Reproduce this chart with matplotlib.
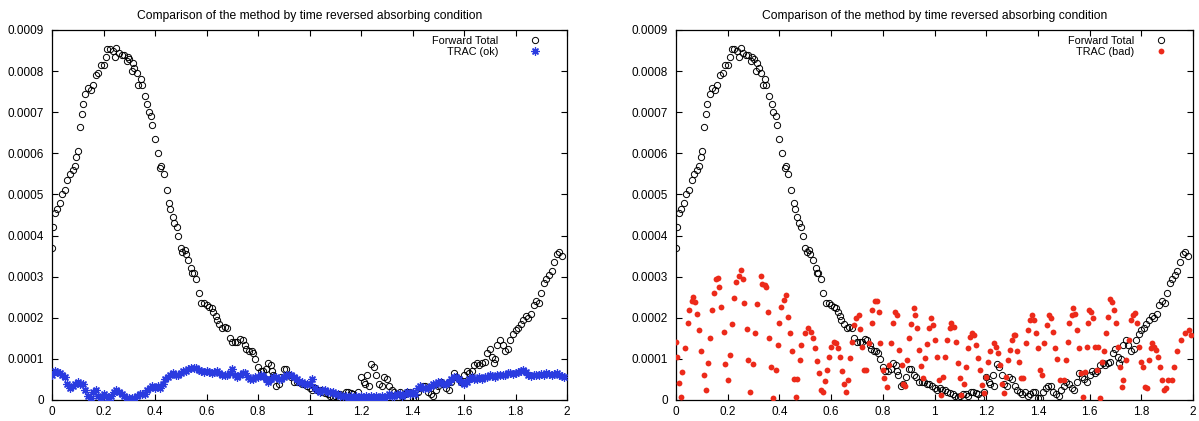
import numpy as np
import matplotlib
matplotlib.use("Agg")
import matplotlib.pyplot as plt
from matplotlib.ticker import MultipleLocator, FuncFormatter

plt.rcParams['font.family'] = ['Liberation Sans', 'DejaVu Sans']

title = "Comparison of the method by time reversed absorbing condition"

# Forward Total (same in both panels)
fwd_x = [0.000, 0.005, 0.010, 0.020, 0.030, 0.040, 0.050, 0.060, 0.070, 0.080,
         0.090, 0.095, 0.100, 0.110, 0.115, 0.120, 0.130, 0.140, 0.150, 0.160,
         0.170, 0.180, 0.190, 0.200, 0.210, 0.215, 0.225, 0.235, 0.245, 0.250,
         0.260, 0.270, 0.280, 0.290, 0.295, 0.300, 0.310, 0.315, 0.320, 0.330,
         0.335, 0.345, 0.350, 0.360, 0.370, 0.375, 0.385, 0.390, 0.400, 0.410,
         0.420, 0.425, 0.435, 0.445, 0.455, 0.460, 0.470, 0.475, 0.485, 0.490,
         0.500, 0.505, 0.515, 0.520, 0.530, 0.540, 0.545, 0.550, 0.560, 0.570,
         0.580, 0.590, 0.600, 0.610, 0.620, 0.625, 0.635, 0.640, 0.650, 0.660,
         0.670, 0.680, 0.690, 0.700, 0.710, 0.720, 0.730, 0.740, 0.750, 0.755,
         0.765, 0.775, 0.780, 0.790, 0.800, 0.810, 0.820, 0.830, 0.840, 0.850,
         0.855, 0.860, 0.870, 0.880, 0.890, 0.900, 0.910, 0.920, 0.930, 0.940,
         0.950, 0.960, 0.970, 0.980, 0.990, 1.000, 1.010, 1.020, 1.030, 1.040,
         1.050, 1.060, 1.070, 1.080, 1.090, 1.100, 1.110, 1.120, 1.130, 1.140,
         1.150, 1.160, 1.170, 1.180, 1.190, 1.200, 1.210, 1.215, 1.225, 1.230,
         1.240, 1.250, 1.260, 1.270, 1.280, 1.290, 1.300, 1.310, 1.320, 1.330,
         1.340, 1.350, 1.360, 1.370, 1.380, 1.390, 1.400, 1.410, 1.420, 1.430,
         1.440, 1.450, 1.460, 1.470, 1.480, 1.490, 1.500, 1.510, 1.520, 1.530,
         1.540, 1.550, 1.560, 1.570, 1.580, 1.590, 1.600, 1.610, 1.620, 1.630,
         1.640, 1.650, 1.660, 1.670, 1.680, 1.690, 1.700, 1.710, 1.715, 1.720,
         1.730, 1.740, 1.750, 1.760, 1.770, 1.780, 1.790, 1.800, 1.810, 1.820,
         1.830, 1.840, 1.850, 1.860, 1.870, 1.880, 1.890, 1.900, 1.910, 1.920,
         1.930, 1.940, 1.950, 1.960, 1.970, 1.980]
fwd_y = [0.000370, 0.000420, 0.000455, 0.000465, 0.000480, 0.000500, 0.000510, 0.000535, 0.000550, 0.000560,
         0.000570, 0.000590, 0.000605, 0.000665, 0.000695, 0.000720, 0.000745, 0.000760, 0.000755, 0.000765,
         0.000790, 0.000795, 0.000815, 0.000815, 0.000835, 0.000853, 0.000853, 0.000850, 0.000835, 0.000857,
         0.000845, 0.000840, 0.000840, 0.000825, 0.000835, 0.000830, 0.000800, 0.000820, 0.000808, 0.000795,
         0.000765, 0.000780, 0.000765, 0.000740, 0.000720, 0.000700, 0.000690, 0.000670, 0.000635, 0.000600,
         0.000565, 0.000570, 0.000550, 0.000510, 0.000480, 0.000465, 0.000445, 0.000430, 0.000420, 0.000400,
         0.000370, 0.000360, 0.000365, 0.000355, 0.000340, 0.000320, 0.000310, 0.000310, 0.000295, 0.000260,
         0.000237, 0.000237, 0.000232, 0.000227, 0.000225, 0.000215, 0.000205, 0.000195, 0.000185, 0.000175,
         0.000178, 0.000175, 0.000152, 0.000140, 0.000140, 0.000140, 0.000148, 0.000145, 0.000135, 0.000125,
         0.000120, 0.000118, 0.000115, 0.000100, 0.000080, 0.000070, 0.000070, 0.000075, 0.000090, 0.000085,
         0.000070, 0.000060, 0.000035, 0.000040, 0.000055, 0.000075, 0.000075, 0.000060, 0.000055, 0.000045,
         0.000045, 0.000045, 0.000040, 0.000040, 0.000035, 0.000030, 0.000025, 0.000030, 0.000025, 0.000025,
         0.000020, 0.000018, 0.000015, 0.000010, 0.000008, 0.000010, 0.000015, 0.000015, 0.000010, 0.000020,
         0.000020, 0.000018, 0.000015, 0.000005, 0.000020, 0.000055, 0.000045, 0.000040, 0.000060, 0.000035,
         0.000088, 0.000080, 0.000060, 0.000040, 0.000035, 0.000055, 0.000050, 0.000035, 0.000025, 0.000020,
         0.000015, 0.000020, 0.000010, 0.000015, 0.000020, 0.000020, 0.000005, 0.000005, 0.000020, 0.000030,
         0.000035, 0.000035, 0.000020, 0.000015, 0.000010, 0.000025, 0.000035, 0.000045, 0.000040, 0.000028,
         0.000025, 0.000045, 0.000065, 0.000055, 0.000050, 0.000045, 0.000060, 0.000070, 0.000065, 0.000070,
         0.000085, 0.000090, 0.000085, 0.000090, 0.000093, 0.000115, 0.000125, 0.000105, 0.000090, 0.000100,
         0.000135, 0.000145, 0.000135, 0.000120, 0.000125, 0.000145, 0.000160, 0.000170, 0.000175, 0.000185,
         0.000195, 0.000205, 0.000200, 0.000210, 0.000230, 0.000240, 0.000235, 0.000260, 0.000285, 0.000295,
         0.000305, 0.000315, 0.000335, 0.000355, 0.000360, 0.000350]

# TRAC (ok), sampled every 0.01 from 0 to 1.99
ok_x = [round(0.01 * i, 2) for i in range(200)]
ok_y = [0.000060, 0.000070, 0.000068, 0.000065, 0.000060, 0.000055, 0.000040, 0.000030, 0.000035, 0.000040,
        0.000045, 0.000040, 0.000040, 0.000025, 0.000010, 0.000005, 0.000020, 0.000025, 0.000010, 0.000005,
        0.000015, 0.000010, 0.000000, 0.000010, 0.000020, 0.000025, 0.000020, 0.000015, 0.000010, 0.000005,
        0.000005, 0.000005, 0.000005, 0.000010, 0.000015, 0.000015, 0.000015, 0.000025, 0.000030, 0.000035,
        0.000030, 0.000035, 0.000030, 0.000040, 0.000050, 0.000055, 0.000060, 0.000065, 0.000060, 0.000060,
        0.000065, 0.000070, 0.000070, 0.000075, 0.000078, 0.000078, 0.000077, 0.000073, 0.000070, 0.000068,
        0.000070, 0.000067, 0.000065, 0.000068, 0.000070, 0.000065, 0.000060, 0.000060, 0.000060, 0.000065,
        0.000075, 0.000060, 0.000055, 0.000060, 0.000065, 0.000065, 0.000055, 0.000050, 0.000050, 0.000055,
        0.000055, 0.000060, 0.000058, 0.000050, 0.000045, 0.000050, 0.000055, 0.000055, 0.000050, 0.000050,
        0.000055, 0.000060, 0.000060, 0.000060, 0.000055, 0.000050, 0.000045, 0.000045, 0.000040, 0.000040,
        0.000040, 0.000050, 0.000030, 0.000025, 0.000020, 0.000025, 0.000025, 0.000020, 0.000020, 0.000020,
        0.000015, 0.000015, 0.000010, 0.000010, 0.000010, 0.000005, 0.000010, 0.000005, 0.000010, 0.000005,
        0.000010, 0.000005, 0.000010, 0.000005, 0.000010, 0.000005, 0.000010, 0.000005, 0.000010, 0.000005,
        0.000010, 0.000015, 0.000010, 0.000010, 0.000015, 0.000015, 0.000010, 0.000015, 0.000020, 0.000015,
        0.000020, 0.000015, 0.000030, 0.000035, 0.000030, 0.000030, 0.000030, 0.000035, 0.000040, 0.000040,
        0.000045, 0.000045, 0.000040, 0.000040, 0.000045, 0.000050, 0.000055, 0.000055, 0.000050, 0.000045,
        0.000040, 0.000045, 0.000050, 0.000055, 0.000050, 0.000050, 0.000055, 0.000050, 0.000055, 0.000055,
        0.000060, 0.000058, 0.000055, 0.000060, 0.000062, 0.000060, 0.000062, 0.000065, 0.000065, 0.000063,
        0.000065, 0.000068, 0.000070, 0.000072, 0.000068, 0.000060, 0.000058, 0.000060, 0.000060, 0.000062,
        0.000063, 0.000062, 0.000065, 0.000063, 0.000060, 0.000063, 0.000065, 0.000060, 0.000058, 0.000055]

# TRAC (bad)
bad_x = [0.000, 0.003, 0.010, 0.020, 0.025, 0.035, 0.045, 0.050, 0.060, 0.067,
         0.075, 0.082, 0.090, 0.097, 0.107, 0.115, 0.122, 0.130, 0.139, 0.146,
         0.154, 0.164, 0.168, 0.176, 0.184, 0.190, 0.200, 0.210, 0.216, 0.224,
         0.234, 0.243, 0.250, 0.258, 0.264, 0.273, 0.280, 0.288, 0.298, 0.306,
         0.313, 0.328, 0.333, 0.343, 0.350, 0.355, 0.360, 0.368, 0.377, 0.385,
         0.393, 0.400, 0.407, 0.418, 0.425, 0.433, 0.440, 0.447, 0.455, 0.463,
         0.470, 0.478, 0.485, 0.500, 0.512, 0.522, 0.530, 0.537, 0.545, 0.552,
         0.560, 0.570, 0.578, 0.584, 0.592, 0.600, 0.610, 0.620, 0.627, 0.634,
         0.642, 0.650, 0.657, 0.667, 0.675, 0.682, 0.690, 0.697, 0.706, 0.713,
         0.720, 0.728, 0.736, 0.746, 0.757, 0.760, 0.768, 0.776, 0.784, 0.790,
         0.800, 0.806, 0.816, 0.824, 0.833, 0.840, 0.848, 0.855, 0.863, 0.873,
         0.880, 0.886, 0.893, 0.900, 0.910, 0.920, 0.925, 0.933, 0.940, 0.948,
         0.955, 0.963, 0.970, 0.978, 0.985, 0.993, 1.000, 1.010, 1.018, 1.027,
         1.033, 1.042, 1.050, 1.060, 1.064, 1.075, 1.082, 1.090, 1.097, 1.104,
         1.115, 1.122, 1.130, 1.137, 1.145, 1.154, 1.160, 1.167, 1.176, 1.183,
         1.190, 1.200, 1.208, 1.216, 1.230, 1.238, 1.246, 1.254, 1.260, 1.270,
         1.276, 1.284, 1.291, 1.300, 1.306, 1.313, 1.320, 1.328, 1.336, 1.343,
         1.354, 1.363, 1.370, 1.378, 1.385, 1.393, 1.400, 1.407, 1.415, 1.425,
         1.436, 1.443, 1.450, 1.458, 1.466, 1.473, 1.485, 1.500, 1.507, 1.515,
         1.522, 1.530, 1.537, 1.545, 1.552, 1.560, 1.567, 1.575, 1.582, 1.590,
         1.593, 1.597, 1.604, 1.612, 1.619, 1.630, 1.634, 1.642, 1.649, 1.657,
         1.664, 1.672, 1.679, 1.687, 1.694, 1.701, 1.709, 1.716, 1.724, 1.731,
         1.739, 1.754, 1.761, 1.769, 1.776, 1.784, 1.791, 1.799, 1.806, 1.813,
         1.821, 1.828, 1.836, 1.843, 1.851, 1.858, 1.866, 1.873, 1.881, 1.888,
         1.896, 1.903, 1.918, 1.925, 1.940, 1.955, 1.970, 1.985, 1.993]
bad_y = [0.000140, 0.000104, 0.000042, 0.000008, 0.000069, 0.000126, 0.000187, 0.000220, 0.000240, 0.000250,
         0.000238, 0.000210, 0.000170, 0.000120, 0.000060, 0.000024, 0.000090, 0.000152, 0.000219, 0.000260,
         0.000294, 0.000297, 0.000276, 0.000227, 0.000166, 0.000088, 0.000049, 0.000110, 0.000184, 0.000247,
         0.000286, 0.000302, 0.000316, 0.000294, 0.000235, 0.000172, 0.000097, 0.000020, 0.000088, 0.000162,
         0.000233, 0.000302, 0.000282, 0.000280, 0.000276, 0.000215, 0.000152, 0.000081, 0.000004, 0.000073,
         0.000135, 0.000188, 0.000227, 0.000243, 0.000255, 0.000203, 0.000162, 0.000118, 0.000050, 0.000008,
         0.000050, 0.000097, 0.000135, 0.000162, 0.000174, 0.000166, 0.000150, 0.000126, 0.000096, 0.000065,
         0.000024, 0.000020, 0.000046, 0.000073, 0.000104, 0.000130, 0.000142, 0.000138, 0.000126, 0.000105,
         0.000071, 0.000040, 0.000020, 0.000049, 0.000101, 0.000142, 0.000182, 0.000199, 0.000207, 0.000172,
         0.000130, 0.000073, 0.000073, 0.000138, 0.000187, 0.000219, 0.000240, 0.000240, 0.000215, 0.000138,
         0.000073, 0.000053, 0.000032, 0.000085, 0.000138, 0.000187, 0.000215, 0.000207, 0.000122, 0.000085,
         0.000040, 0.000035, 0.000098, 0.000150, 0.000185, 0.000223, 0.000207, 0.000174, 0.000122, 0.000083,
         0.000053, 0.000101, 0.000136, 0.000174, 0.000199, 0.000183, 0.000146, 0.000105, 0.000049, 0.000012,
         0.000057, 0.000105, 0.000146, 0.000174, 0.000188, 0.000178, 0.000142, 0.000089, 0.000053, 0.000012,
         0.000040, 0.000081, 0.000126, 0.000154, 0.000162, 0.000158, 0.000134, 0.000101, 0.000073, 0.000036,
         0.000016, 0.000057, 0.000093, 0.000118, 0.000138, 0.000130, 0.000114, 0.000085, 0.000040, 0.000016,
         0.000057, 0.000097, 0.000122, 0.000146, 0.000158, 0.000158, 0.000118, 0.000093, 0.000053, 0.000053,
         0.000138, 0.000170, 0.000195, 0.000207, 0.000195, 0.000162, 0.000126, 0.000073, 0.000061, 0.000138,
         0.000182, 0.000207, 0.000199, 0.000166, 0.000126, 0.000099, 0.000049, 0.000049, 0.000097, 0.000142,
         0.000187, 0.000207, 0.000223, 0.000210, 0.000170, 0.000126, 0.000065, 0.000008, 0.000069, 0.000130,
         0.000187, 0.000219, 0.000215, 0.000199, 0.000130, 0.000073, 0.000130, 0.000004, 0.000093, 0.000118,
         0.000162, 0.000203, 0.000245, 0.000239, 0.000219, 0.000187, 0.000130, 0.000081, 0.000032, 0.000049,
         0.000097, 0.000146, 0.000195, 0.000207, 0.000211, 0.000187, 0.000130, 0.000093, 0.000081, 0.000032,
         0.000028, 0.000097, 0.000126, 0.000138, 0.000130, 0.000122, 0.000105, 0.000081, 0.000049, 0.000024,
         0.000028, 0.000049, 0.000049, 0.000081, 0.000118, 0.000146, 0.000162, 0.000170, 0.000158]

ok_color = "#2a3be0"
bad_color = "#ec2a1a"

W, H = 1199, 421
fig = plt.figure(figsize=(W / 100, H / 100), dpi=100)
top_px, bot_px = 30, 400
ax1 = fig.add_axes([52 / W, 1 - bot_px / H, (567 - 52) / W, (bot_px - top_px) / H])
ax2 = fig.add_axes([676 / W, 1 - bot_px / H, (1193 - 676) / W, (bot_px - top_px) / H])


def style(ax):
    ax.set_xlim(0, 2)
    ax.set_ylim(0, 0.0009)
    ax.xaxis.set_major_locator(MultipleLocator(0.2))
    ax.yaxis.set_major_locator(MultipleLocator(0.0001))
    ax.xaxis.set_major_formatter(FuncFormatter(lambda v, p: f"{v:g}"))
    ax.yaxis.set_major_formatter(FuncFormatter(lambda v, p: "0" if abs(v) < 1e-12 else f"{v:.4f}"))
    ax.tick_params(direction="in", top=True, right=True, length=4, width=0.8,
                   labelsize=8.5)
    ax.tick_params(axis="x", pad=4)
    ax.tick_params(axis="y", pad=6)
    for s in ax.spines.values():
        s.set_linewidth(0.9)
    ax.set_title(title, fontsize=8.7, pad=8)


for ax in (ax1, ax2):
    style(ax)
    ax.plot(fwd_x, fwd_y, linestyle="none", marker="o", markersize=4.5,
            markerfacecolor="none", markeredgecolor="black", markeredgewidth=0.7,
            label="Forward Total", zorder=3)

ax1.plot(ok_x, ok_y, linestyle="none", marker=(8, 2, 0), markersize=5.8,
         color=ok_color, markeredgewidth=0.9, label="TRAC (ok)", zorder=4)
ax2.plot(bad_x, bad_y, linestyle="none", marker="o", markersize=4.2,
         color=bad_color, markeredgewidth=0, label="TRAC (bad)", zorder=4)

for ax, tpad in ((ax1, 2.4), (ax2, 1.5)):
    leg = ax.legend(loc="upper right", bbox_to_anchor=(0.959, 0.984), frameon=False,
                    markerfirst=False, fontsize=7.8, handlelength=2.0,
                    handletextpad=tpad, borderaxespad=0, borderpad=0,
                    labelspacing=0.12)
    for t in leg.get_texts():
        t.set_ha("right")

fig.savefig("out.png", dpi=100)
